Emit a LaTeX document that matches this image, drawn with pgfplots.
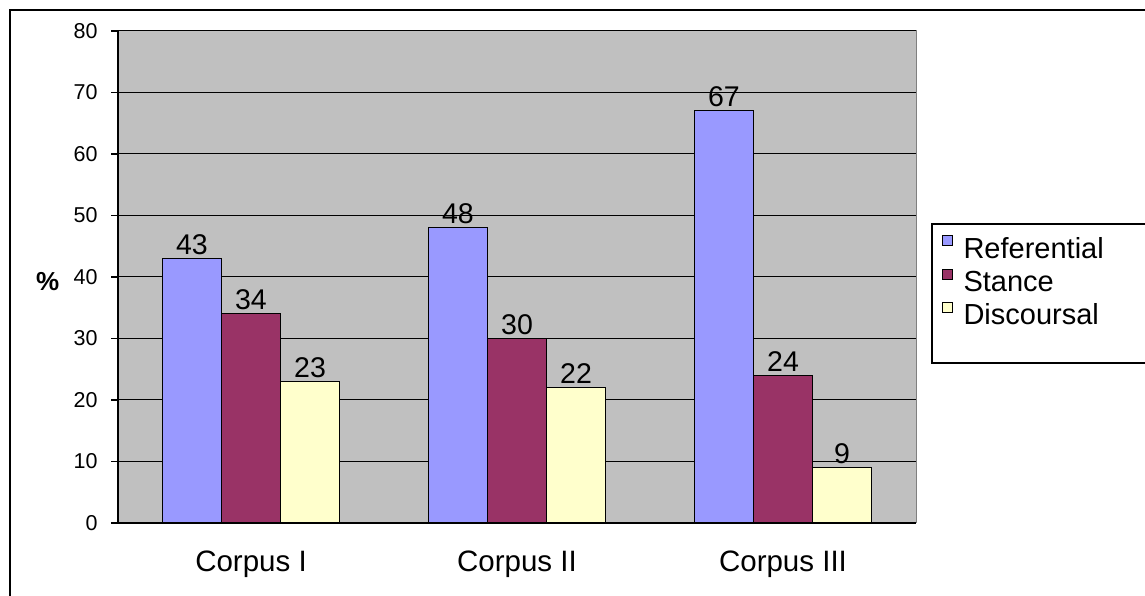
\documentclass[border=0pt]{standalone}
\usepackage{pgfplots}
\pgfplotsset{compat=1.18}
\usepackage{fontspec}
\setmainfont{Liberation Sans}
\definecolor{cRef}{HTML}{9999FF}
\definecolor{cSta}{HTML}{993366}
\definecolor{cDis}{HTML}{FFFFCC}
\definecolor{plotbg}{HTML}{C0C0C0}
\definecolor{plotframe}{HTML}{808080}
\begin{document}
\begin{tikzpicture}[x=1pt,y=1pt]
\useasboundingbox (0,0) rectangle (1145,596);
\draw[line width=1.5pt] (10,-10) -- (10,586) -- (1160,586);
\draw[line width=1.2pt] (932,233) rectangle (1160,372);
\begin{axis}[
  at={(118pt,73pt)}, anchor=south west,
  scale only axis, width=798pt, height=492pt,
  xmin=-0.5, xmax=2.5, ymin=0, ymax=80,
  ybar=0pt, bar width=0.222,
  axis background/.style={fill=plotbg, draw=plotframe, line width=1pt},
  axis x line*=bottom, axis y line*=left,
  axis line style={-, black, line width=1.2pt},
  ytick={0,10,...,80},
  ymajorgrids, major grid style={black, line width=1pt},
  xtick={0,1,2}, xticklabels={Corpus I, Corpus II, Corpus III},
  x tick style={draw=none},
  extra x ticks={-0.5,0.5,1.5,2.5}, extra x tick labels={},
  extra x tick style={grid=none, tick style={draw=black, line width=1.2pt}},
  tick align=outside, major tick length=7pt,
  y tick style={black, line width=1.2pt},
  /pgf/number format/assume math mode=true,
  yticklabel style={font=\fontsize{21.5}{25}\selectfont, xshift=-10pt},
  xticklabel style={font=\fontsize{29.5}{34}\selectfont, yshift=-17pt},
  ylabel={\textbf{\%}},
  ylabel style={font=\fontsize{26}{30}\selectfont, rotate=-90, at={(axis description cs:-0.088,0.49)}, anchor=center},
  nodes near coords,
  nodes near coords style={font=\fontsize{28.5}{32}\selectfont, black, inner sep=3.5pt, anchor=south},
  legend style={draw=none, fill=none, at={(axis description cs:1.032,0.586)}, anchor=north west, font=\fontsize{29}{33}\selectfont, row sep=7pt, column sep=9pt, inner sep=0pt},
  legend cell align=left,
  legend image code/.code={\draw[#1, line width=0.8pt] (0pt,3pt) rectangle (10pt,13pt);},
]
\addplot[fill=cRef, draw=black, line width=1pt] coordinates {(0,43) (1,48) (2,67)};
\addplot[fill=cSta, draw=black, line width=1pt] coordinates {(0,34) (1,30) (2,24)};
\addplot[fill=cDis, draw=black, line width=1pt] coordinates {(0,23) (1,22) (2,9)};
\legend{Referential, Stance, Discoursal}
\end{axis}
\end{tikzpicture}
\end{document}
